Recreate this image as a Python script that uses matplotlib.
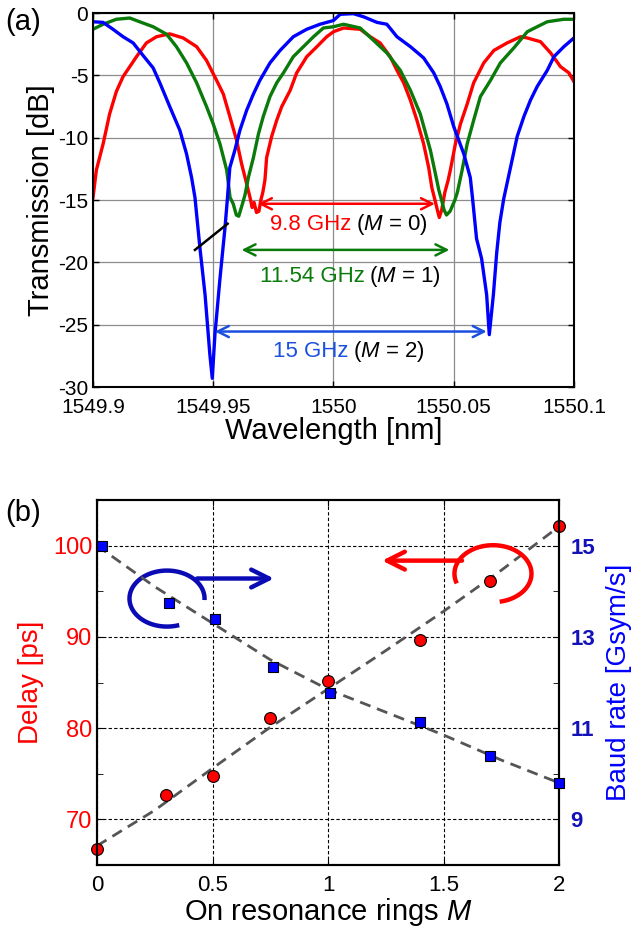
import numpy as np
import matplotlib
matplotlib.use("Agg")
import matplotlib.pyplot as plt
from matplotlib.ticker import MultipleLocator

plt.rcParams['font.family'] = ['Liberation Sans', 'DejaVu Sans']
plt.rcParams['mathtext.fontset'] = 'custom'
plt.rcParams['mathtext.rm'] = 'Liberation Sans'
plt.rcParams['mathtext.it'] = 'Liberation Sans:italic'
plt.rcParams['axes.unicode_minus'] = False

# ---- (a) transmission spectra, wavelength as offset in pm from 1549.9 nm
wl0 = 1549.9
red_pm = [0, 1.4, 4.2, 6.9, 9.7, 12.5, 15.3, 18.1, 22.2, 26.4, 31.9, 37.5, 43.1, 47.2,
          51.4, 54.2, 56.9, 59.7, 61.8, 63.9, 65.3, 66.2, 67.0, 68.0, 69.0, 69.8, 70.6,
          71.5, 72.2, 74.3, 76.4, 78.5, 82.0, 84.7, 88.9, 93.1, 97.2, 100.0, 104.2, 111.1,
          115.3, 119.4, 123.6, 126.4, 129.2, 132.0, 134.7, 137.5, 139.6, 140.9, 142.2,
          143.2, 144.0, 145.0, 146.3, 147.7, 148.6, 150.7, 152.8, 155.6, 158.3, 162.5,
          166.7, 172.2, 177.8, 180.6, 186.1, 190.3, 194.4, 197.9, 200.0]
red_db = [-14.8, -12.6, -10.5, -8.1, -6.3, -5.1, -4.3, -3.5, -2.4, -1.9, -1.67, -2.0, -2.7, -3.8,
          -5.4, -6.5, -8.3, -10.2, -12.1, -13.7, -14.8, -15.6, -15.2, -16.0, -15.9, -15.0, -14.4,
          -13.4, -11.6, -9.9, -8.6, -7.5, -6.2, -4.8, -3.5, -2.7, -1.9, -1.5, -1.2, -1.3,
          -1.9, -2.4, -3.5, -4.6, -5.6, -7.0, -8.6, -10.5, -12.4, -14.0, -15.0,
          -15.8, -16.4, -15.8, -14.4, -13.4, -12.6, -10.5, -8.9, -7.3, -5.6, -4.0,
          -3.0, -2.4, -1.9, -2.0, -2.3, -3.2, -4.3, -4.8, -5.5]

green_pm = [0, 4.2, 9.7, 15.3, 19.4, 25.0, 30.6, 34.7, 38.9, 43.1, 47.2, 50.0, 52.8, 55.6,
            57.0, 58.3, 59.6, 60.6, 62.0, 63.2, 64.6, 66.7, 68.8, 70.8, 73.6, 76.4, 79.2,
            83.3, 87.5, 91.7, 95.8, 100.0, 104.2, 111.1, 116.7, 122.2, 127.8, 132.0, 136.1,
            140.3, 142.4, 143.8, 145.1, 146.0, 147.0, 148.5, 150.5, 151.5, 153.5, 155.6,
            158.3, 161.1, 165.3, 169.4, 175.0, 180.6, 184.7, 188.9, 195.8, 200.0]
green_db = [-1.3, -0.9, -0.5, -0.4, -0.7, -1.1, -1.7, -2.7, -4.0, -5.6, -7.5, -8.9, -10.5, -12.6,
            -14.8, -15.3, -16.2, -16.3, -15.4, -14.6, -13.2, -11.6, -9.7, -8.3, -6.7, -5.6, -4.8,
            -3.5, -2.7, -1.9, -1.2, -1.1, -0.9, -1.2, -2.2, -3.2, -4.6, -6.2, -8.1,
            -11.0, -12.9, -14.2, -15.1, -15.8, -16.2, -15.9, -15.0, -14.4, -12.6, -10.5,
            -8.6, -6.7, -5.4, -4.0, -2.8, -1.5, -1.1, -0.7, -0.5, -0.5]

blue_pm = [0, 4.2, 8.3, 12.5, 16.7, 20.8, 25.0, 27.8, 31.9, 36.1, 38.9, 41.0, 42.4, 44.5,
           46.6, 48.6, 49.6, 50.7, 52.8, 54.9, 55.8, 56.9, 59.0, 61.1, 63.9, 66.7, 69.4,
           73.6, 77.8, 83.3, 88.9, 94.4, 100.0, 102.8, 108.3, 112.5, 118.1, 122.2, 126.4,
           132.0, 137.5, 141.7, 144.4, 147.2, 150.0, 152.1, 154.2, 156.9, 157.8, 159.5,
           161.6, 163.7, 164.8, 166.5, 167.9, 169.2, 170.8, 173.6, 176.4, 179.2, 181.9,
           184.7, 188.9, 191.7, 195.8, 200.0]
blue_db = [-0.7, -0.75, -1.3, -1.9, -2.4, -3.4, -4.4, -5.6, -7.5, -9.4, -11.3, -13.2, -14.8, -18.9,
           -22.6, -27.4, -29.3, -25.8, -21.3, -17.2, -15.1, -12.4, -11.0, -9.4, -7.8, -6.5, -5.4,
           -4.0, -3.0, -1.9, -1.3, -0.9, -0.6, -0.1, -0.05, -0.3, -0.75, -0.9, -1.9,
           -2.7, -3.6, -4.8, -5.9, -7.3, -9.1, -10.2, -11.3, -13.2, -14.8, -18.1,
           -19.7, -22.6, -25.8, -22.6, -19.2, -16.8, -14.9, -12.4, -9.9, -8.3, -7.0,
           -5.9, -4.6, -3.5, -2.7, -2.0]

# ---- (b) delay and baud rate vs. number of on-resonance rings
m_delay = [0, 0.3, 0.5, 0.75, 1.0, 1.4, 1.7, 2.0]
delay_ps = [66.7, 72.7, 74.7, 81.1, 85.2, 89.7, 96.1, 102.1]
m_baud = [0.02, 0.31, 0.51, 0.76, 1.01, 1.4, 1.7, 2.0]
baud = [15.0, 13.74, 13.39, 12.33, 11.76, 11.14, 10.39, 9.79]
m_fit = [0, 0.25, 0.5, 0.75, 1.0, 1.25, 1.5, 1.75, 2.0]
delay_fit = [67.1, 71.0, 75.6, 80.1, 84.3, 88.5, 92.8, 97.3, 102.1]
baud_fit = [15.0, 14.1, 13.3, 12.5, 11.85, 11.35, 10.85, 10.3, 9.8]

RED = '#ff0000'
GREEN = '#0a7a0a'
BLUE = '#0000ff'

fig = plt.figure(figsize=(6.37, 9.31), dpi=100)

# ================= (a)
ax1 = fig.add_axes([0.146, 0.5843, 0.755, 0.4017])
ax1.plot(wl0 + np.array(red_pm) * 1e-3, red_db, color=RED, lw=2.4)
ax1.plot(wl0 + np.array(green_pm) * 1e-3, green_db, color=GREEN, lw=2.4)
ax1.plot(wl0 + np.array(blue_pm) * 1e-3, blue_db, color=BLUE, lw=2.4)
ax1.set_xlim(1549.9, 1550.1)
ax1.set_ylim(-30, 0)
ax1.set_xticks([1549.9, 1549.95, 1550.0, 1550.05, 1550.1])
ax1.set_xticklabels(['1549.9', '1549.95', '1550', '1550.05', '1550.1'])
ax1.set_yticks([-30, -25, -20, -15, -10, -5, 0])
ax1.set_yticklabels(['-30', '-25', '-20', '-15', '-10', '-5', '0'])
ax1.tick_params(direction='in', top=True, right=True, length=4, width=1, labelsize=15)
ax1.tick_params(axis='x', pad=8)
ax1.grid(True, color='#8c8c8c', lw=0.9)
for s in ax1.spines.values():
    s.set_linewidth(1.5)
ax1.set_xlabel('Wavelength [nm]', fontsize=21, labelpad=0)
ax1.set_ylabel('Transmission [dB]', fontsize=21, labelpad=2)

# spacing arrows and labels
arrows = [(1549.9686, 1550.0422, -15.3, RED, '9.8 GHz', '($\\mathit{M}$ = 0)', 1550.0076, -16.95),
          (1549.9618, 1550.0482, -19.0, GREEN, '11.54 GHz', '($\\mathit{M}$ = 1)', 1550.0131, -21.15),
          (1549.9507, 1550.0637, -25.55, '#1a4fe0', '15 GHz', '($\\mathit{M}$ = 2)', 1550.0062, -27.15)]
for x1, x2, y, c, t1, t2, xt, yt in arrows:
    ax1.annotate('', xy=(x2, y), xytext=(x1, y),
                 arrowprops=dict(arrowstyle='<->', color=c, lw=1.8, mutation_scale=20,
                                 shrinkA=0, shrinkB=0))
    ax1.text(xt, yt, t1, color=c, fontsize=16, ha='right', va='center')
    ax1.text(xt + 0.0018, yt, t2, color='k', fontsize=16, ha='left', va='center')
ax1.plot([1549.9424, 1549.9560], [-19.0, -16.9], color='k', lw=1.8)

fig.text(0.008, 0.976, '(a)', fontsize=21, va='center')
fig.text(0.008, 0.449, '(b)', fontsize=21, va='center')

# ================= (b)
ax2 = fig.add_axes([0.1523, 0.0709, 0.7253, 0.392])
ax3 = ax2.twinx()
ax2.set_xlim(0, 2)
ax2.set_ylim(65, 105)
ax3.set_ylim(8, 16)
ax2.set_xticks([0, 0.5, 1, 1.5, 2])
ax2.set_xticklabels(['0', '0.5', '1', '1.5', '2'])
ax2.yaxis.set_major_locator(MultipleLocator(10))
ax2.yaxis.set_minor_locator(MultipleLocator(5))
ax3.set_yticks([9, 11, 13, 15])
ax3.yaxis.set_minor_locator(MultipleLocator(1))
ax2.tick_params(axis='both', which='both', direction='in', length=4, labelsize=16, top=True)
ax2.tick_params(axis='x', pad=7)
ax2.tick_params(axis='y', which='both', labelcolor=RED, labelsize=17)
ax3.tick_params(axis='y', which='both', direction='in', length=4, labelsize=16, labelcolor='#1212b8', pad=8)
for lab in ax3.get_yticklabels():
    lab.set_fontweight('bold')
ax2.grid(True, which='major', color='k', ls=(0, (3, 2)), lw=0.8)
for s in list(ax2.spines.values()) + list(ax3.spines.values()):
    s.set_linewidth(1.5)

ax2.plot(m_fit, delay_fit, ls=(0, (4, 2.5)), color='#555555', lw=2)
ax3.plot(m_fit, baud_fit, ls=(0, (4, 2.5)), color='#555555', lw=2)
ax2.plot(m_delay, delay_ps, 'o', mfc=RED, mec='k', mew=0.8, ms=8.5, clip_on=False, zorder=5)
ax3.plot(m_baud, baud, 's', mfc=BLUE, mec='k', mew=0.8, ms=7, clip_on=False, zorder=5)

ax2.set_xlabel('On resonance rings $\\mathit{M}$', fontsize=21, labelpad=0)
ax2.set_ylabel('Delay [ps]', fontsize=20, color=RED, labelpad=6)
ax3.set_ylabel('Baud rate [Gsym/s]', fontsize=20, color=BLUE, labelpad=8)

# ring symbols with direction arrows
t = np.deg2rad(np.linspace(-3, 289, 80))
ax2.plot(0.303 + 0.1625 * np.cos(t), 94.2 + 3.07 * np.sin(t), color='#0b0bb5', lw=3.2, solid_capstyle='butt')
ax2.annotate('', xy=(0.766, 96.4), xytext=(0.433, 96.4),
             arrowprops=dict(arrowstyle='->', color='#0b0bb5', lw=3.2, mutation_scale=32,
                             shrinkA=0, shrinkB=0))
t = np.deg2rad(np.linspace(-80, 200, 80))
ax2.plot(1.714 + 0.1667 * np.cos(t), 96.93 + 3.12 * np.sin(t), color=RED, lw=3.2, solid_capstyle='butt')
ax2.annotate('', xy=(1.234, 98.36), xytext=(1.58, 98.36),
             arrowprops=dict(arrowstyle='->', color=RED, lw=3.2, mutation_scale=32,
                             shrinkA=0, shrinkB=0))

fig.savefig('out.png', dpi=100)
